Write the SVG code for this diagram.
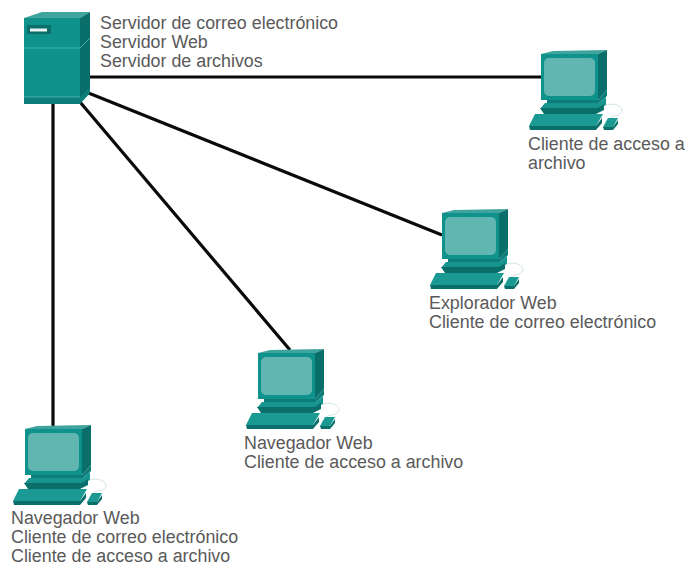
<svg xmlns="http://www.w3.org/2000/svg" width="686" height="567" viewBox="0 0 686 567">
<style>
.t{font-family:"Liberation Sans",Arial,sans-serif;font-size:17.85px;fill:#5a5a5a}
.l{stroke:#0a0a0a;stroke-width:3.2;fill:none}
</style>
<defs>
<g id="pc">
<path d="M21 54L33 51L87 50L78 54Z" fill="#3fa39e"/>
<path d="M21 54H78V100H21Z" fill="#0f928c"/>
<path d="M78 54L87 50V90L78 100Z" fill="#0a6f6b"/>
<rect x="24" y="58" width="51" height="38" rx="5" fill="#62b6b1"/>
<path d="M27 100H78L87 90V96L79 103H27Z" fill="#0c7d78"/>
<path d="M25 103H79L86 97V105L78 109H20Z" fill="#16948e"/>
<path d="M20 108H78L84 104V110L76 114H24Z" fill="#0a6f6b"/>
<path d="M26 114H72V118H26Z" fill="#0c7d78"/>
<path d="M15 114H83L76 126H9Z" fill="#1b9a94"/>
<path d="M9 126H76L82 118V123L76 130H10Z" fill="#0a6f6b"/>
<path d="M86 105C96 102 105 108 101 113C98 117 92 115 90 118" stroke="#d2e4e3" stroke-width="1" fill="none"/>
<path d="M88 118H98L93 127H83Z" fill="#1b9a94"/>
<path d="M83 127H93L98 120V124L93 130H84Z" fill="#0a6f6b"/>
</g>
</defs>
<rect width="686" height="567" fill="#fff"/>
<g id="connectors">
<path class="l" d="M86 77H541"/>
<path class="l" d="M86 92L442 235"/>
<path class="l" d="M80 102L290 350"/>
<path class="l" d="M53 102V427"/>
</g>
<g id="server">
<path d="M24 18L42 12H90L80 18Z" fill="#3fa39e"/>
<path d="M24 18H80V103H24Z" fill="#0f928c"/>
<path d="M80 18L90 12V92L80 103Z" fill="#0a6f6b"/>
<path d="M24 48H80L90 38" stroke="#3fb0aa" stroke-width="1" fill="none"/>
<path d="M24 97H80L90 87V93L80 104H24Z" fill="#0c7d78"/>
<path d="M24 97H80" stroke="#3fb0aa" stroke-width="1" fill="none"/>
<rect x="27" y="25" width="24" height="9" fill="#0a6f6b"/>
<rect x="30" y="28.500" width="17" height="3" fill="#e8f4f3"/>
<text class="t"><tspan x="100" y="29">Servidor de correo electrónico</tspan><tspan x="100" y="48">Servidor Web</tspan><tspan x="100" y="67">Servidor de archivos</tspan></text>
</g>
<g id="client-archivo">
<use href="#pc" x="520" y="0"/>
<text class="t"><tspan x="528" y="150">Cliente de acceso a</tspan><tspan x="528" y="169">archivo</tspan></text>
</g>
<g id="client-explorador">
<use href="#pc" x="421" y="159"/>
<text class="t"><tspan x="429" y="309">Explorador Web</tspan><tspan x="429" y="328">Cliente de correo electrónico</tspan></text>
</g>
<g id="client-navegador-1">
<use href="#pc" x="237" y="299"/>
<text class="t"><tspan x="244" y="449">Navegador Web</tspan><tspan x="244" y="468">Cliente de acceso a archivo</tspan></text>
</g>
<g id="client-navegador-2">
<use href="#pc" x="4" y="375"/>
<text class="t"><tspan x="11" y="524">Navegador Web</tspan><tspan x="11" y="543">Cliente de correo electrónico</tspan><tspan x="11" y="562">Cliente de acceso a archivo</tspan></text>
</g>
</svg>
